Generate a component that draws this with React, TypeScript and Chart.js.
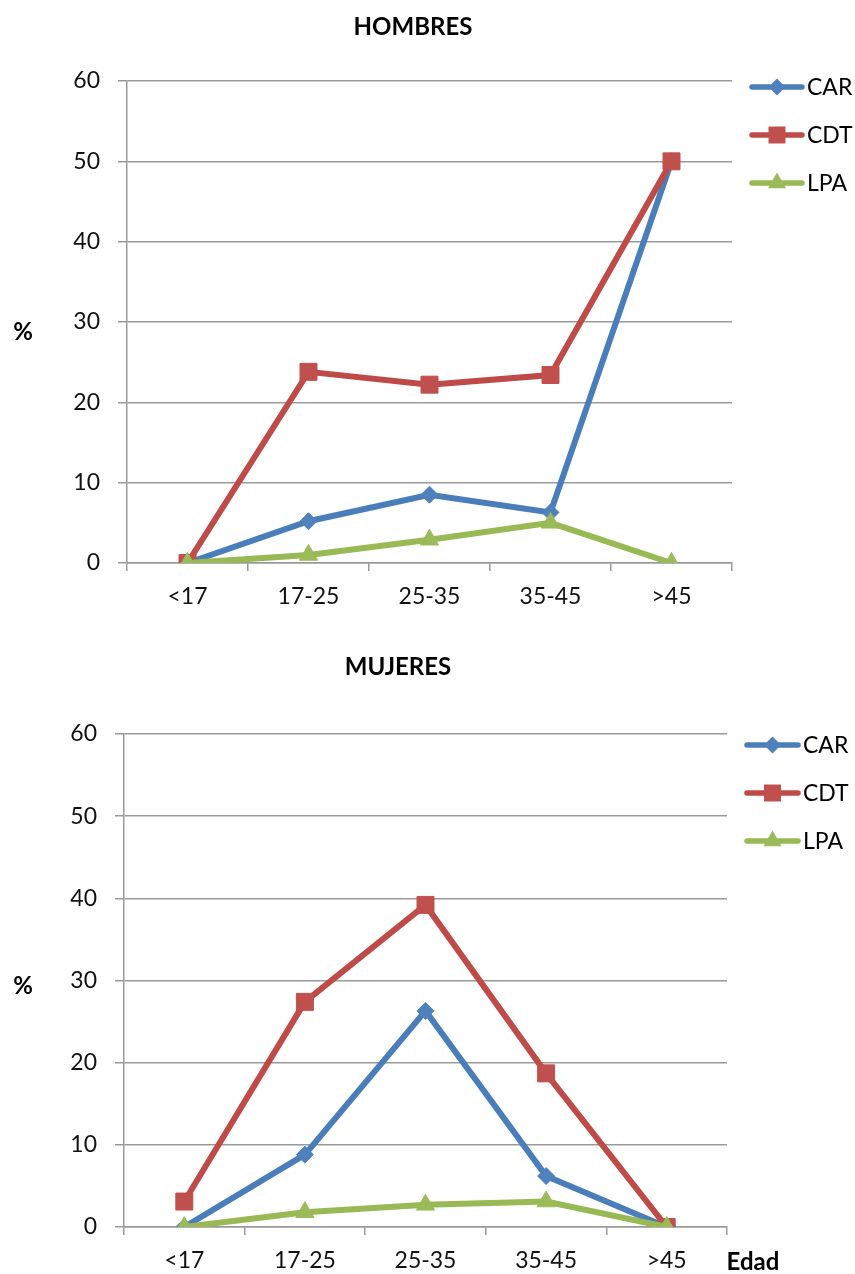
import React, { useEffect, useRef } from 'react';
import { Chart, registerables } from 'chart.js';

Chart.register(...registerables);

// ---------- DATA ----------
const CATEGORIES = ['<17', '17-25', '25-35', '35-45', '>45'];
const SERIES_NAMES = ['CAR', 'CDT', 'LPA'];
const Y_MIN = 0;
const Y_MAX = 60;
const Y_STEP = 10;

const HOMBRES_CAR = [0, 5.2, 8.5, 6.3, 50];
const HOMBRES_CDT = [0, 23.8, 22.2, 23.4, 50];
const HOMBRES_LPA = [0, 1.0, 2.9, 5.0, 0];

const MUJERES_CAR = [0, 8.8, 26.3, 6.2, 0];
const MUJERES_CDT = [3.1, 27.4, 39.2, 18.7, 0];
const MUJERES_LPA = [0, 1.8, 2.7, 3.1, 0];

// ---------- STYLE ----------
const FONT = 'Lato, "Open Sans", "Liberation Sans", sans-serif';
const GRID = '#9a9a9a';
const STYLES = [
  { line: '#4A7EBB', fill: '#4F81BD', point: 'rectRot', radius: 8.5, order: 2 },
  { line: '#BE4B48', fill: '#C0504D', point: 'rect', radius: 12, order: 1 },
  { line: '#98B954', fill: '#9BBB59', point: 'triangle', radius: 10.5, order: 0 },
];

function drawMarker(ctx: CanvasRenderingContext2D, style: string, x: number, y: number, r: number, color: string) {
  ctx.save();
  ctx.fillStyle = color;
  ctx.beginPath();
  if (style === 'rect') {
    const s = Math.SQRT1_2 * r;
    ctx.rect(x - s, y - s, 2 * s, 2 * s);
  } else if (style === 'rectRot') {
    ctx.moveTo(x, y - r);
    ctx.lineTo(x + r, y);
    ctx.lineTo(x, y + r);
    ctx.lineTo(x - r, y);
    ctx.closePath();
  } else {
    ctx.moveTo(x, y - r);
    ctx.lineTo(x + r * 0.866, y + r * 0.5);
    ctx.lineTo(x - r * 0.866, y + r * 0.5);
    ctx.closePath();
  }
  ctx.fill();
  ctx.restore();
}

type PanelCfg = {
  title: string;
  titleX: number;
  titleY: number;
  pctX: number;
  pctY: number;
  series: number[][];
  height: number;
  area: { l: number; r: number; t: number; b: number };
  legend: { x1: number; x2: number; tx: number; y0: number; dy: number };
  edad?: { x: number; y: number };
};

const W = 855;
const Y_AXIS_W = 60;
const X_AXIS_H = 45;

function Panel({ cfg }: { cfg: PanelCfg }) {
  const ref = useRef<HTMLCanvasElement | null>(null);
  useEffect(() => {
    if (!ref.current) return;
    const overlay = {
      id: 'overlay',
      afterDraw(chart: any) {
        const ctx = chart.ctx as CanvasRenderingContext2D;
        ctx.save();
        ctx.fillStyle = '#000';
        ctx.textBaseline = 'middle';
        ctx.textAlign = 'center';
        ctx.font = `bold 24px ${FONT}`;
        ctx.fillText(cfg.title, cfg.titleX, cfg.titleY);
        ctx.fillText('%', cfg.pctX, cfg.pctY);
        if (cfg.edad) ctx.fillText('Edad', cfg.edad.x, cfg.edad.y);
        // legend
        const lg = cfg.legend;
        SERIES_NAMES.forEach((name, i) => {
          const st = STYLES[i];
          const y = lg.y0 + i * lg.dy;
          ctx.strokeStyle = st.line;
          ctx.lineWidth = 5.5;
          ctx.lineCap = 'round';
          ctx.beginPath();
          ctx.moveTo(lg.x1, y);
          ctx.lineTo(lg.x2, y);
          ctx.stroke();
          drawMarker(ctx, st.point, (lg.x1 + lg.x2) / 2, y, st.radius, st.fill);
          ctx.fillStyle = '#000';
          ctx.font = `23px ${FONT}`;
          ctx.textAlign = 'left';
          ctx.fillText(name, lg.tx, y + 1);
        });
        ctx.restore();
      },
    };
    const chart = new Chart(ref.current, {
      type: 'line',
      data: {
        labels: CATEGORIES,
        datasets: SERIES_NAMES.map((name, i) => ({
          label: name,
          data: cfg.series[i],
          borderColor: STYLES[i].line,
          backgroundColor: STYLES[i].fill,
          pointBackgroundColor: STYLES[i].fill,
          pointBorderColor: STYLES[i].fill,
          pointBorderWidth: 1,
          pointStyle: STYLES[i].point as any,
          pointRadius: STYLES[i].radius,
          borderWidth: 6,
          tension: 0,
          fill: false,
          order: STYLES[i].order,
        })),
      },
      options: {
        responsive: false,
        animation: false,
        devicePixelRatio: 1,
        layout: {
          padding: {
            left: cfg.area.l - Y_AXIS_W,
            right: W - cfg.area.r,
            top: cfg.area.t,
            bottom: cfg.height - cfg.area.b - X_AXIS_H,
          },
        },
        plugins: {
          legend: { display: false },
          title: { display: false },
          tooltip: { enabled: false },
        },
        scales: {
          x: {
            type: 'category',
            offset: true,
            grid: {
              display: true,
              drawOnChartArea: false,
              drawTicks: true,
              tickLength: 8,
              color: GRID,
              lineWidth: 1.5,
              offset: true,
            },
            border: { display: true, color: GRID, width: 1.5 },
            ticks: { color: '#111', font: { family: FONT, size: 23 }, padding: 12, maxRotation: 0, autoSkip: false },
            afterFit: (s: any) => {
              s.height = X_AXIS_H;
            },
          },
          y: {
            min: Y_MIN,
            max: Y_MAX,
            ticks: { stepSize: Y_STEP, color: '#111', font: { family: FONT, size: 23 }, padding: 18 },
            grid: { color: GRID, lineWidth: 1.5, tickLength: 9 },
            border: { display: true, color: GRID, width: 1.5 },
            afterFit: (s: any) => {
              s.width = Y_AXIS_W;
            },
          },
        },
      },
      plugins: [overlay],
    });
    return () => chart.destroy();
  }, [cfg]);
  return <canvas ref={ref} width={W} height={cfg.height} style={{ display: 'block' }} />;
}

const TOP: PanelCfg = {
  title: 'HOMBRES',
  titleX: 413,
  titleY: 27,
  pctX: 23,
  pctY: 332,
  series: [HOMBRES_CAR, HOMBRES_CDT, HOMBRES_LPA],
  height: 630,
  area: { l: 127, r: 732, t: 81, b: 563 },
  legend: { x1: 752, x2: 802, tx: 807, y0: 87, dy: 48 },
};

const BOTTOM: PanelCfg = {
  title: 'MUJERES',
  titleX: 398,
  titleY: 37,
  pctX: 23,
  pctY: 356,
  series: [MUJERES_CAR, MUJERES_CDT, MUJERES_LPA],
  height: 644,
  area: { l: 124, r: 727, t: 104, b: 597 },
  legend: { x1: 747, x2: 798, tx: 803, y0: 115, dy: 48 },
  edad: { x: 753, y: 632 },
};

export default function App() {
  return (
    <div style={{ position: 'absolute', left: 0, top: 0, width: W, height: 1274, background: '#fff' }}>
      <Panel cfg={TOP} />
      <Panel cfg={BOTTOM} />
    </div>
  );
}
